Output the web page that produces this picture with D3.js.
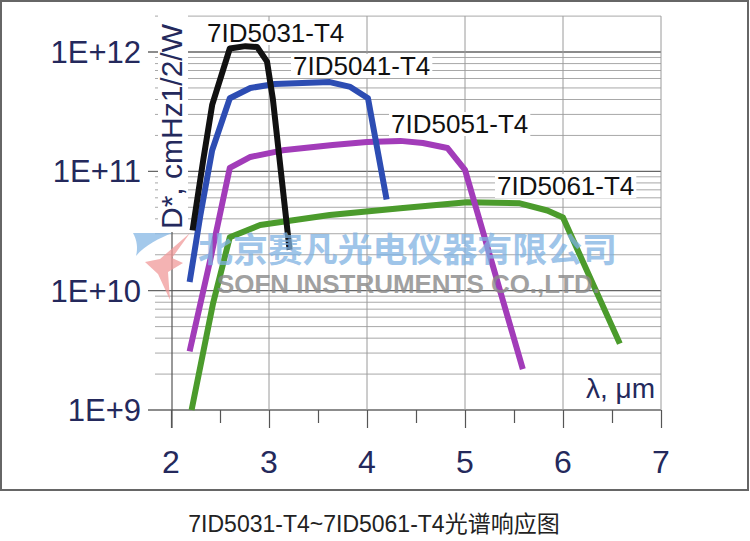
<!DOCTYPE html>
<html>
<head>
<meta charset="utf-8">
<script src="https://cdn.jsdelivr.net/npm/d3@7"></script>
<style>
  html, body { margin: 0; padding: 0; background: #fff; }
  svg { display: block; }
</style>
</head>
<body>
<svg id="chart" width="750" height="541"></svg>
<script>
// ---------- data ----------
const seriesNames = ["7ID5031-T4", "7ID5041-T4", "7ID5051-T4", "7ID5061-T4"];
const wl5031 = [2.22, 2.33, 2.42, 2.60, 2.76, 2.88, 2.98, 3.04, 3.21];
const d5031  = [3.2e10, 1.26e11, 3.6e11, 1.07e12, 1.12e12, 1.10e12, 8.3e11, 4.0e11, 2.2e10];
const wl5041 = [2.19, 2.30, 2.42, 2.60, 2.81, 3.06, 3.62, 3.83, 4.01, 4.20];
const d5041  = [1.18e10, 4.3e10, 1.5e11, 4.1e11, 5.0e11, 5.4e11, 5.6e11, 5.1e11, 4.1e11, 5.8e10];
const wl5051 = [2.19, 2.40, 2.60, 2.81, 3.14, 3.65, 4.00, 4.34, 4.57, 4.82, 5.00, 5.59];
const d5051  = [3.1e9, 1.8e10, 1.07e11, 1.32e11, 1.5e11, 1.66e11, 1.76e11, 1.8e11, 1.73e11, 1.57e11, 1.03e11, 2.2e9];
const wl5061 = [2.21, 2.43, 2.60, 2.91, 3.62, 4.34, 5.02, 5.56, 5.84, 6.00, 6.58];
const d5061  = [1.0e9, 7.9e9, 2.8e10, 3.55e10, 4.3e10, 4.9e10, 5.5e10, 5.4e10, 4.7e10, 4.1e10, 3.6e9];
const xTickValues = [2, 3, 4, 5, 6, 7];
const yTickValues = [1e9, 1e10, 1e11, 1e12];
const yTickLabels = ["1E+9", "1E+10", "1E+11", "1E+12"];
const yAxisTitle = "D*, cmHz1/2/W";
const xAxisTitle = "λ, μm";
const caption = "7ID5031-T4~7ID5061-T4光谱响应图";
const watermarkCN = "北京赛凡光电仪器有限公司";
const watermarkEN = "SOFN INSTRUMENTS CO.,LTD.";

// ---------- layout ----------
const FONT = "'Liberation Sans', Arial, 'Noto Sans CJK SC', sans-serif";
const navy = "#24295c";
const svg = d3.select("#chart");
const x = d3.scaleLinear().domain([2, 7]).range([171, 661]);
const y = d3.scaleLog().domain([1e9, 2e12]).range([410, 16.1]);

// frame
svg.append("rect").attr("x", 1).attr("y", 1).attr("width", 747).attr("height", 489)
  .attr("fill", "none").attr("stroke", "#666").attr("stroke-width", 2);

const grid = svg.append("g");
// minor horizontal gridlines
const minorVals = [];
for (let e = 9; e <= 11; e++) for (let k = 2; k <= 9; k++) minorVals.push(k * Math.pow(10, e));
minorVals.push(2e12);
grid.selectAll("line.minor").data(minorVals).enter().append("line")
  .attr("x1", 155).attr("x2", x(7))
  .attr("y1", d => y(d)).attr("y2", d => y(d))
  .attr("stroke", "#a8a8a8").attr("stroke-width", 1);
// major horizontal gridlines
grid.selectAll("line.major").data(yTickValues).enter().append("line")
  .attr("x1", 148).attr("x2", x(7))
  .attr("y1", d => y(d)).attr("y2", d => y(d))
  .attr("stroke", "#666").attr("stroke-width", 1.3);
// vertical gridlines
grid.selectAll("line.v").data(xTickValues.slice(1)).enter().append("line")
  .attr("x1", d => x(d)).attr("x2", d => x(d))
  .attr("y1", y(2e12)).attr("y2", 410)
  .attr("stroke", "#9a9a9a").attr("stroke-width", 1);

// x axis with ticks
const xAxis = d3.axisBottom(x).tickValues(d3.range(2, 7.01, 0.5)).tickSize(0).tickFormat("");
const xg = svg.append("g").attr("transform", "translate(0,410)").call(xAxis);
xg.select(".domain").remove();
xg.selectAll(".tick line").attr("y2", d => Number.isInteger(d) ? 18 : 13).attr("stroke", "#555").attr("stroke-width", 1.2);
svg.append("g").selectAll("text").data(xTickValues).enter().append("text")
  .attr("x", d => x(d)).attr("y", 473).attr("text-anchor", "middle")
  .attr("font-family", FONT).attr("font-size", 32).attr("fill", navy)
  .text(d => d);

// y axis line
svg.append("line").attr("x1", 172).attr("x2", 172).attr("y1", 16).attr("y2", 428)
  .attr("stroke", "#555").attr("stroke-width", 1.2);
// y tick labels
svg.append("g").selectAll("text").data(yTickValues).enter().append("text")
  .attr("x", 141).attr("y", d => y(d) + 11).attr("text-anchor", "end")
  .attr("font-family", FONT).attr("font-size", 31).attr("fill", navy)
  .text((d, i) => yTickLabels[i]);

// y axis title with white background
svg.append("rect").attr("x", 158).attr("y", 14).attr("width", 30).attr("height", 218).attr("fill", "#fff");
svg.append("text").attr("transform", "translate(182,229) rotate(-90)")
  .attr("font-family", FONT).attr("font-size", 30).attr("fill", navy)
  .text(yAxisTitle);

// x axis title with background
svg.append("rect").attr("x", 570).attr("y", 376).attr("width", 89).attr("height", 32).attr("fill", "#fff");
svg.append("text").attr("x", 655).attr("y", 398).attr("text-anchor", "end")
  .attr("font-family", FONT).attr("font-size", 28).attr("fill", navy)
  .text(xAxisTitle);

// series label positions (layout)
const labelPos = [[207, 42], [293, 75], [391, 133], [497, 195]];
const labelG = svg.append("g");
labelPos.forEach((p, i) => {
  const t = labelG.append("text").attr("x", p[0]).attr("y", p[1])
    .attr("font-family", FONT).attr("font-size", 26).attr("fill", "#111")
    .text(seriesNames[i]);
  const bb = t.node().getBBox();
  labelG.insert("rect", "text").attr("x", bb.x - 2).attr("y", bb.y + 3)
    .attr("width", bb.width + 4).attr("height", bb.height - 6).attr("fill", "#fff");
});

// lines
const line = d3.line().x(d => x(d[0])).y(d => y(d[1]));
const series = [
  { wl: wl5061, d: d5061, color: "#4b9b2c" },
  { wl: wl5051, d: d5051, color: "#a23cb9" },
  { wl: wl5041, d: d5041, color: "#2d4db3" },
  { wl: wl5031, d: d5031, color: "#111111" }
];
svg.append("g").selectAll("path").data(series).enter().append("path")
  .attr("d", s => line(s.wl.map((w, i) => [w, s.d[i]])))
  .attr("fill", "none").attr("stroke", s => s.color)
  .attr("stroke-width", 6).attr("stroke-linejoin", "round").attr("stroke-linecap", "butt");

// watermark
const wm = svg.append("g");
wm.append("path").attr("d", "M133,233 L172,233 C160,238 145,245 136,256 C138,248 137,240 133,233 Z")
  .attr("fill", "#8dbbe6").attr("opacity", 0.8);
wm.append("path").attr("d", "M190,233 L172,258 L183,263 L168,272 L170,300 L158,274 L145,262 L160,259 Z")
  .attr("fill", "#f09a9a").attr("opacity", 0.75);
wm.append("text").attr("x", 198).attr("y", 262).attr("textLength", 419).attr("lengthAdjust", "spacingAndGlyphs")
  .attr("font-family", "'Noto Sans CJK SC', sans-serif").attr("font-weight", "bold").attr("font-size", 34)
  .attr("fill", "#7fb2e2").attr("opacity", 0.75).text(watermarkCN);
wm.append("text").attr("x", 217).attr("y", 293).attr("textLength", 383).attr("lengthAdjust", "spacingAndGlyphs")
  .attr("font-family", FONT).attr("font-weight", "bold").attr("font-size", 26)
  .attr("fill", "#8a8a8a").attr("opacity", 0.8).text(watermarkEN);

// caption
svg.append("text").attr("x", 374).attr("y", 532).attr("text-anchor", "middle")
  .attr("font-family", FONT).attr("font-size", 23).attr("fill", "#222")
  .text(caption);
</script>
</body>
</html>
